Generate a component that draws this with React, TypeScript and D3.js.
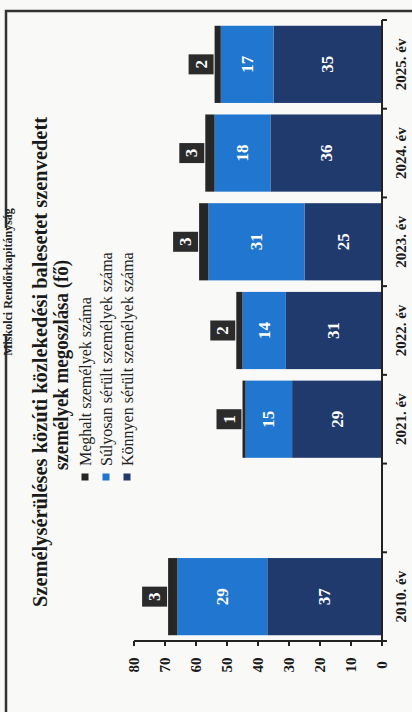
import React from "react";
import * as d3 from "d3";

const categories = ["2010. év", "", "2021. év", "2022. év", "2023. év", "2024. év", "2025. év"];
const konnyen = [37, null, 29, 31, 25, 36, 35];
const sulyosan = [29, null, 15, 14, 31, 18, 17];
const meghalt = [3, null, 1, 2, 3, 3, 2];
const valueTicks = [0, 10, 20, 30, 40, 50, 60, 70, 80];
const seriesNames = ["Meghalt személyek száma", "Súlyosan sérült személyek száma", "Könnyen sérült személyek száma"];
const titleLines = ["Személysérüléses közúti közlekedési balesetet szenvedett", "személyek megoszlása (fő)"];
const headerText = "Miskolci Rendőrkapitányság";

const W = 412;
const H = 712;
const FONT = "'Liberation Serif', 'Times New Roman', serif";
const C_KONNYEN = "#213a6d";
const C_SULYOS = "#2176cf";
const C_MEGHALT = "#262626";

export default function App() {
  const rows = categories.map((c, i) => ({
    cat: c,
    k: konnyen[i] ?? 0,
    s: sulyosan[i] ?? 0,
    m: meghalt[i] ?? 0,
    empty: konnyen[i] == null,
  }));
  const stack = d3.stack<any>().keys(["k", "s", "m"])(rows);
  const colors: Record<string, string> = { k: C_KONNYEN, s: C_SULYOS, m: C_MEGHALT };

  // u: along categories (screen bottom->top), v: screen x
  const x = d3.scaleBand<string>().domain(categories).range([71, 692]).paddingInner(0.13).paddingOuter(0.065);
  const y = d3.scaleLinear().domain([0, 80]).range([382, 134]);
  const step = x.step();
  const bw = x.bandwidth();

  const legendColors = [C_MEGHALT, C_SULYOS, C_KONNYEN];
  const legendV = [85, 106, 127];

  return (
    <svg width={W} height={H} style={{ position: "absolute", left: 0, top: 0, background: "#f9f9f7" }}>
      <rect x={0} y={0} width={W} height={H} fill="#f9f9f7" />
      {/* frame */}
      <path d={`M6,${H} V11 H${W}`} fill="none" stroke="#333" strokeWidth={2.5} />
      <g transform={`translate(0,${H}) rotate(-90)`} fontFamily={FONT}>
        {/* header */}
        <rect x={H - 336} y={0} width={108} height={14} fill="#f9f9f7" />
        <text x={H - 282} y={7.5} textAnchor="middle" dominantBaseline="central" fontSize={12} fontWeight="bold" fill="#222">
          {headerText}
        </text>
        {/* title */}
        <text x={H - 362} y={47} textAnchor="middle" fontSize={20} fontWeight="bold" fill="#1a1a1a"
          textLength={490} lengthAdjust="spacingAndGlyphs">{titleLines[0]}</text>
        <text x={H - 365} y={68} textAnchor="middle" fontSize={20} fontWeight="bold" fill="#1a1a1a"
          textLength={210} lengthAdjust="spacingAndGlyphs">{titleLines[1]}</text>
        {/* legend */}
        {seriesNames.map((n, i) => (
          <g key={n}>
            <rect x={H - 477 - 3.5} y={legendV[i] - 3.5} width={7} height={7} fill={legendColors[i]} />
            <text x={H - 466} y={legendV[i]} dominantBaseline="central" fontSize={16} fill="#222">{n}</text>
          </g>
        ))}
        {/* bars */}
        {stack.map((layer) => (
          <g key={layer.key} fill={colors[layer.key]}>
            {layer.map((d, i) =>
              rows[i].empty ? null : (
                <rect key={i} x={x(categories[i])} width={bw} y={y(d[1])} height={y(d[0]) - y(d[1])} />
              )
            )}
          </g>
        ))}
        {/* segment labels */}
        {stack.filter((l) => l.key !== "m").map((layer) =>
          layer.map((d, i) =>
            rows[i].empty ? null : (
              <text key={layer.key + i} x={(x(categories[i]) as number) + bw / 2} y={(y(d[0]) + y(d[1])) / 2}
                textAnchor="middle" dominantBaseline="central" fontSize={17} fontWeight="bold" fill="#fff">
                {d[1] - d[0]}
              </text>
            )
          )
        )}
        {/* meghalt boxes */}
        {stack[2].map((d, i) => {
          if (rows[i].empty) return null;
          const cu = (x(categories[i]) as number) + bw / 2;
          const vEnd = y(d[1]);
          return (
            <g key={"m" + i}>
              <rect x={cu - 10} y={vEnd - 26} width={20} height={25} fill="#2b2b2b" />
              <text x={cu} y={vEnd - 13.5} textAnchor="middle" dominantBaseline="central" fontSize={17} fontWeight="bold" fill="#fff">
                {d[1] - d[0]}
              </text>
            </g>
          );
        })}
        {/* value axis */}
        <line x1={71} x2={71} y1={y(80)} y2={y(0)} stroke="#222" strokeWidth={2} />
        {valueTicks.map((t) => (
          <g key={t}>
            <line x1={71} x2={66} y1={y(t)} y2={y(t)} stroke="#222" strokeWidth={2} />
            <text x={47} y={y(t)} textAnchor="middle" dominantBaseline="central" fontSize={15} fontWeight="bold" fill="#1a1a1a">{t}</text>
          </g>
        ))}
        {/* category axis */}
        <line x1={71} x2={692} y1={382} y2={382} stroke="#222" strokeWidth={2} />
        {d3.range(categories.length + 1).map((i) => (
          <line key={i} x1={71 + i * step} x2={71 + i * step} y1={382} y2={387} stroke="#222" strokeWidth={2} />
        ))}
        {categories.map((c) => (
          <text key={c} x={(x(c) as number) + bw / 2} y={401} textAnchor="middle" dominantBaseline="central"
            fontSize={15} fontWeight="bold" fill="#1a1a1a">{c}</text>
        ))}
      </g>
    </svg>
  );
}
